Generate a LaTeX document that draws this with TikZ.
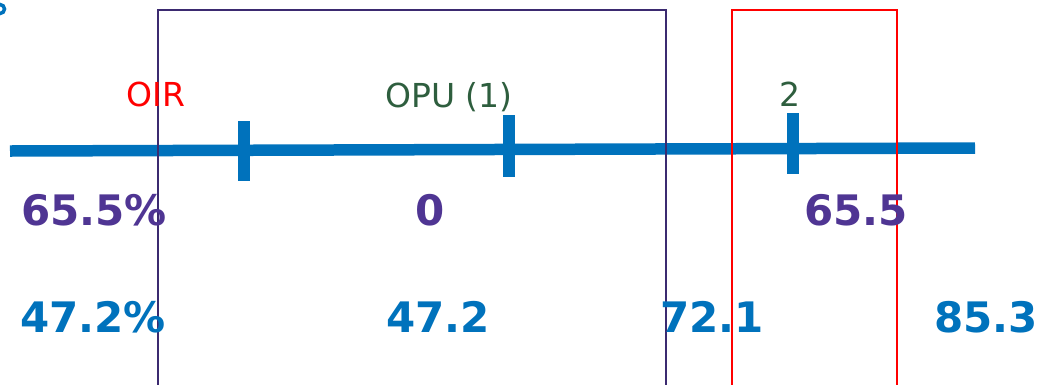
\documentclass[tikz,border=0pt]{standalone}
\usepackage{fontspec}
\setmainfont{DejaVu Sans}
\definecolor{axisblue}{HTML}{0072BC}
\definecolor{numpurple}{HTML}{4F3593}
\definecolor{boxpurple}{HTML}{3B2A70}
\definecolor{lblgreen}{HTML}{2E5E3E}
\definecolor{lblred}{HTML}{FF0000}
\tikzset{
  axisline/.style={draw=axisblue, line width=11.5pt},
  tickmark/.style={draw=axisblue, line width=12pt},
  purplebox/.style={draw=boxpurple, line width=2.4pt},
  redbox/.style={draw=lblred, line width=2.4pt},
  lbl/.style={anchor=base, inner sep=0pt, font=\fontsize{33}{38}\selectfont},
  bignum/.style={anchor=base, inner sep=0pt, font=\fontsize{42}{48}\selectfont\bfseries},
}
\begin{document}
\begin{tikzpicture}[x=1pt, y=-1pt]
\useasboundingbox (0,0) rectangle (1039,384);
% clipped fragment at top-left
\begin{scope}
\clip (0,0) rectangle (7,16);
\draw[axisblue, line width=3.5pt] (0,9) circle (4.5);
\end{scope}
% axis
\coordinate (axL) at (10,151);
\coordinate (axR) at (975,148);
\draw[axisline] (axL) -- (axR);
% ticks
\coordinate (t1a) at (244,121); \coordinate (t1b) at (244,181);
\coordinate (t2a) at (509,115); \coordinate (t2b) at (509,177);
\coordinate (t3a) at (793,113); \coordinate (t3b) at (793,174);
\draw[tickmark] (t1a) -- (t1b);
\draw[tickmark] (t2a) -- (t2b);
\draw[tickmark] (t3a) -- (t3b);
% boxes
\coordinate (pb1) at (158,400); \coordinate (pb2) at (666,10);
\coordinate (rb1) at (732,400); \coordinate (rb2) at (897,10);
\draw[purplebox] (pb1) |- (pb2) -- ++(0,390);
\draw[redbox] (rb1) |- (rb2) -- ++(0,390);
% labels
\node[lbl, text=lblred] (oir) at (156,106) {OIR};
\node[lbl, text=lblgreen] (opu) at (449,107) {OPU (1)};
\node[lbl, text=lblgreen] (two) at (790,106) {2};
% numbers
\node[bignum, text=numpurple] (n1) at (94,225) {65.5\%};
\node[bignum, text=numpurple] (n2) at (430,225) {0};
\node[bignum, text=numpurple] (n3) at (856,225) {65.5};
\node[bignum, text=axisblue] (m1) at (93,332) {47.2\%};
\node[bignum, text=axisblue] (m2) at (438,332) {47.2};
\node[bignum, text=axisblue] (m3) at (712,332) {72.1};
\node[bignum, text=axisblue] (m4) at (986,332) {85.3};
\end{tikzpicture}
\end{document}
